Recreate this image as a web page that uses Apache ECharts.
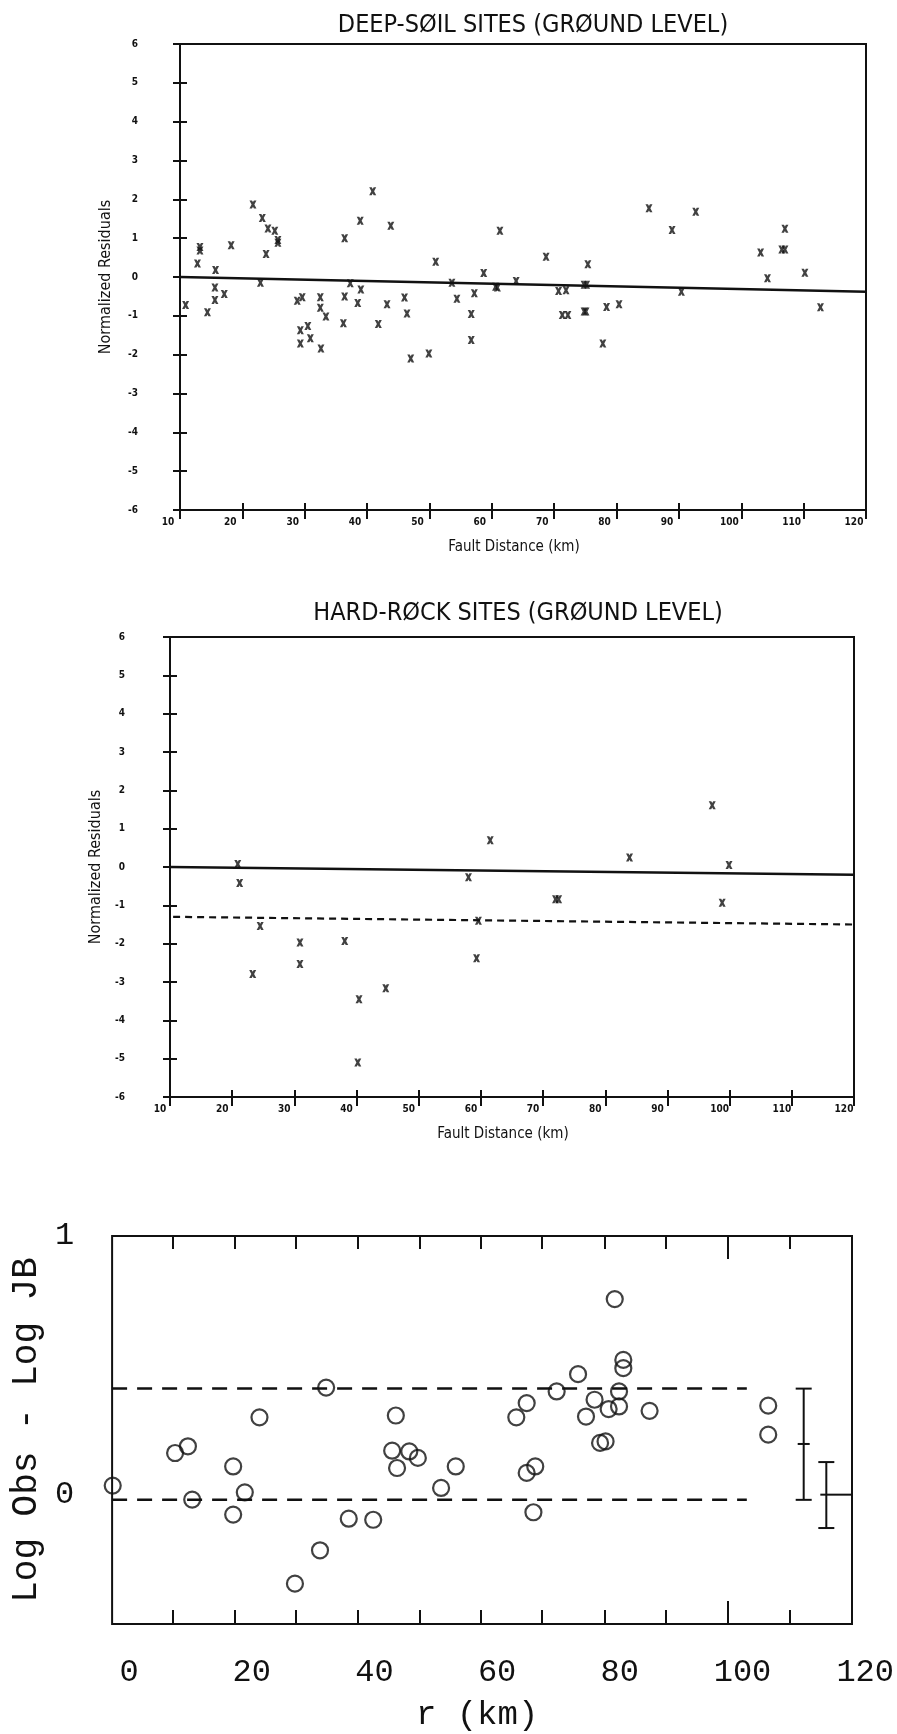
<!DOCTYPE html>
<html>
<head>
<meta charset="utf-8">
<title>Normalized residuals and Log Obs - Log JB vs distance</title>
<script src="https://cdn.jsdelivr.net/npm/echarts@6/dist/echarts.min.js"></script>
<style>
  html, body { margin: 0; padding: 0; background: #fff; }
  #chart { width: 897px; height: 1734px; }
</style>
</head>
<body>
<div id="chart"></div>
<script>
// [fault distance km, normalized residual]
const deepSoilPoints = [
  [13.2, 0.77], [13.2, 0.68], [12.8, 0.35], [15.7, 0.18], [15.6, -0.27], [15.6, -0.59],
  [17.1, -0.44], [14.4, -0.91], [18.2, 0.82], [10.9, -0.72], [21.7, 1.87], [23.2, 1.52],
  [24.1, 1.25], [25.2, 1.19], [25.7, 0.95], [25.7, 0.88], [23.8, 0.59], [22.9, -0.15],
  [28.8, -0.61], [29.6, -0.52], [29.3, -1.37], [30.5, -1.26], [29.3, -1.71], [30.9, -1.58],
  [32.6, -1.84], [32.5, -0.52], [32.5, -0.79], [33.4, -1.02], [36.4, 1.0], [36.4, -0.5],
  [36.2, -1.19], [37.3, -0.16], [38.9, 1.45], [39.0, -0.32], [38.5, -0.67], [40.9, 2.21],
  [43.8, 1.32], [43.2, -0.7], [41.8, -1.21], [46.0, -0.53], [46.4, -0.94], [47.0, -2.1],
  [49.9, -1.97], [51.0, 0.39], [53.6, -0.15], [54.4, -0.56], [56.7, -0.95], [56.7, -1.62],
  [57.2, -0.42], [58.7, 0.1], [60.6, -0.25], [60.9, -0.27], [61.3, 1.19], [63.9, -0.1],
  [68.7, 0.52], [70.7, -0.36], [71.9, -0.34], [71.3, -0.98], [72.2, -0.98], [74.8, -0.89],
  [75.1, -0.89], [74.8, -0.2], [75.2, -0.2], [75.4, 0.33], [77.8, -1.71], [78.4, -0.77],
  [80.4, -0.7], [85.2, 1.77], [88.9, 1.21], [90.4, -0.38], [92.7, 1.68], [103.1, 0.63],
  [104.2, -0.03], [107.0, 1.24], [106.5, 0.71], [107.0, 0.71], [110.2, 0.11], [112.7, -0.78]
];
const deepSoilFit = [[10, 0], [120, -0.38]];

const hardRockPoints = [
  [20.9, 0.08], [21.2, -0.42], [24.5, -1.54], [23.3, -2.79], [30.9, -1.97], [30.9, -2.53],
  [38.1, -1.93], [40.4, -3.45], [44.7, -3.16], [40.2, -5.1], [58.0, -0.27], [59.6, -1.4],
  [59.3, -2.38], [61.5, 0.7], [72.0, -0.84], [72.5, -0.84], [83.9, 0.25], [97.2, 1.61],
  [99.9, 0.05], [98.8, -0.93]
];
const hardRockFit = [[10, 0], [120, -0.2]];
const hardRockShift = [[10.5, -1.3], [120, -1.5]];

// [r km, log obs - log JB]
const jbPoints = [
  [78.8, 0.756], [80.2, 0.521], [80.2, 0.489], [72.8, 0.466], [31.6, 0.414], [69.3, 0.399],
  [79.5, 0.399], [64.4, 0.354], [75.5, 0.367], [79.5, 0.341], [77.8, 0.331], [84.5, 0.324],
  [103.9, 0.344], [20.7, 0.299], [43.0, 0.306], [62.7, 0.299], [74.1, 0.302], [103.9, 0.232],
  [76.4, 0.2], [77.3, 0.206], [6.9, 0.161], [9.0, 0.187], [42.4, 0.17], [45.2, 0.167],
  [46.6, 0.142], [43.2, 0.103], [16.4, 0.109], [52.8, 0.109], [64.4, 0.084], [65.8, 0.109],
  [50.4, 0.026], [-3.3, 0.035], [9.7, -0.019], [18.3, 0.009], [16.4, -0.077], [65.5, -0.068],
  [35.3, -0.093], [39.3, -0.097], [30.6, -0.215], [26.5, -0.344]
];
const jbUpper = [[-3.4, 0.41], [100.4, 0.41]];
const jbLower = [[-3.4, -0.02], [100.4, -0.02]];
// [r, low, centre, high]
const errorBars = [[109.7, -0.02, 0.196, 0.41], [113.4, -0.129, 0, 0.126]];
const rTicks = [6.5, 16.7, 26.7, 36.7, 46.9, 56.9, 66.9, 77.1, 87.2, 97.2, 107.5];
const rLongTicks = [97.2];

const ink = '#111';
const plotFont = "'DejaVu Sans Condensed', 'Liberation Sans Narrow', 'DejaVu Sans', sans-serif";
const monoFont = "'Liberation Mono', 'DejaVu Sans Mono', monospace";
const crossMark = 'path://M0,0H3.6L5,2.6L6.4,0H10L7,6L10,12H6.4L5,9.4L3.6,12H0L3,6Z';

const chart = echarts.init(document.getElementById('chart'));

function residualX(gridIndex, inside, withLabels, shift) {
  return {
    gridIndex,
    type: 'value',
    position: 'bottom',
    min: 10,
    max: 120,
    interval: 10,
    axisLine: { show: false, onZero: false },
    splitLine: { show: false },
    axisTick: { inside, length: inside ? 7 : 9, lineStyle: { color: ink, width: 2 } },
    axisLabel: {
      show: withLabels,
      color: ink,
      fontFamily: plotFont,
      fontWeight: 'bold',
      fontSize: 10,
      margin: 7,
      padding: [0, shift, 0, 0],
    },
    name: withLabels ? 'Fault Distance (km)' : '',
    nameLocation: 'middle',
    nameGap: 30,
    nameTextStyle: { color: ink, fontFamily: plotFont, fontSize: 15, padding: [0, 18, 0, 0] },
  };
}

function residualY(gridIndex, inside, withLabels, margin) {
  return {
    gridIndex,
    type: 'value',
    position: 'left',
    min: -6,
    max: 6,
    interval: 1,
    axisLine: { show: false, onZero: false },
    splitLine: { show: false },
    axisTick: { inside, length: 7, lineStyle: { color: ink, width: 2 } },
    axisLabel: {
      show: withLabels,
      color: ink,
      fontFamily: plotFont,
      fontWeight: 'bold',
      fontSize: 10,
      margin,
    },
    name: withLabels ? 'Normalized Residuals' : '',
    nameLocation: 'middle',
    nameGap: 66,
    nameTextStyle: { color: ink, fontFamily: plotFont, fontSize: 16 },
  };
}

function jbAxis(position, values, length) {
  return {
    gridIndex: 2,
    type: 'value',
    position,
    min: -3.4,
    max: 117.6,
    axisLine: { show: false, onZero: false },
    splitLine: { show: false },
    axisLabel: { show: false },
    axisTick: values
      ? { inside: true, length, customValues: values, lineStyle: { color: ink, width: 2 } }
      : { show: false },
  };
}

function renderErrorBar(params, api) {
  const x = api.value(0);
  const lo = api.coord([x, api.value(1)]);
  const mid = api.coord([x, api.value(2)]);
  const hi = api.coord([x, api.value(3)]);
  const style = { stroke: ink, lineWidth: 2 };
  const cap = 8;
  const last = params.dataIndex === errorBars.length - 1;
  const midRight = last ? params.coordSys.x + params.coordSys.width : mid[0] + 6;
  return {
    type: 'group',
    children: [
      { type: 'line', shape: { x1: hi[0], y1: hi[1], x2: lo[0], y2: lo[1] }, style },
      { type: 'line', shape: { x1: hi[0] - cap, y1: hi[1], x2: hi[0] + cap, y2: hi[1] }, style },
      { type: 'line', shape: { x1: lo[0] - cap, y1: lo[1], x2: lo[0] + cap, y2: lo[1] }, style },
      { type: 'line', shape: { x1: mid[0] - 6, y1: mid[1], x2: midRight, y2: mid[1] }, style },
    ],
  };
}

function straightLine(data, xAxisIndex, yAxisIndex, type, width) {
  return {
    type: 'line',
    data,
    xAxisIndex,
    yAxisIndex,
    showSymbol: false,
    silent: true,
    lineStyle: { color: ink, width, type },
  };
}

chart.setOption({
  animation: false,
  backgroundColor: '#fff',
  title: [
    {
      text: 'DEEP-SØIL SITES (GRØUND LEVEL)',
      left: 533,
      top: 13,
      textAlign: 'center',
      padding: 0,
      textStyle: { color: ink, fontFamily: plotFont, fontWeight: 'normal', fontSize: 25 },
    },
    {
      text: 'HARD-RØCK SITES (GRØUND LEVEL)',
      left: 518,
      top: 601,
      textAlign: 'center',
      padding: 0,
      textStyle: { color: ink, fontFamily: plotFont, fontWeight: 'normal', fontSize: 25 },
    },
  ],
  grid: [
    { left: 180, right: 31, top: 44, height: 466, show: true, borderColor: ink, borderWidth: 2 },
    { left: 170, right: 43, top: 637, height: 460, show: true, borderColor: ink, borderWidth: 2 },
    { left: 108, right: 45, top: 1236, height: 388, show: true, borderColor: ink, borderWidth: 2 },
    { left: 129, right: 30, top: 1236, height: 388 },
  ],
  xAxis: [
    residualX(0, true, true, 24),
    residualX(0, false, false, 0),
    residualX(1, true, true, 20),
    residualX(1, false, false, 0),
    jbAxis('bottom', null, 0),
    jbAxis('bottom', rTicks, 14),
    jbAxis('top', rTicks, 13),
    jbAxis('bottom', rLongTicks, 23),
    jbAxis('top', rLongTicks, 23),
    {
      gridIndex: 3,
      type: 'value',
      position: 'bottom',
      min: 0,
      max: 120,
      interval: 20,
      axisLine: { show: false, onZero: false },
      axisTick: { show: false },
      splitLine: { show: false },
      axisLabel: { color: ink, fontFamily: monoFont, fontSize: 32, margin: 33 },
      name: 'r (km)',
      nameLocation: 'middle',
      nameGap: 74,
      nameTextStyle: { color: ink, fontFamily: monoFont, fontSize: 34, padding: [0, 40, 0, 0] },
    },
  ],
  yAxis: [
    residualY(0, true, true, 42),
    residualY(0, false, false, 0),
    residualY(1, true, true, 45),
    residualY(1, false, false, 0),
    {
      gridIndex: 2,
      type: 'value',
      position: 'left',
      min: -0.5,
      max: 1,
      interval: 0.5,
      axisLine: { show: false, onZero: false },
      axisTick: { show: false },
      splitLine: { show: false },
      axisLabel: {
        color: ink,
        fontFamily: monoFont,
        fontSize: 32,
        margin: 38,
        formatter: v => (v === 0 || v === 1 ? String(v) : ''),
      },
      name: 'Log Obs - Log JB',
      nameLocation: 'middle',
      nameGap: 62,
      nameTextStyle: { color: ink, fontFamily: monoFont, fontSize: 36 },
    },
    { gridIndex: 3, type: 'value', min: -0.5, max: 1, show: false },
  ],
  series: [
    straightLine(deepSoilFit, 0, 0, 'solid', 2.5),
    {
      type: 'scatter',
      data: deepSoilPoints,
      xAxisIndex: 0,
      yAxisIndex: 0,
      symbol: crossMark,
      symbolSize: [7, 8],
      itemStyle: { color: ink },
    },
    straightLine(hardRockFit, 2, 2, 'solid', 2.5),
    straightLine(hardRockShift, 2, 2, [7, 5], 2.2),
    {
      type: 'scatter',
      data: hardRockPoints,
      xAxisIndex: 2,
      yAxisIndex: 2,
      symbol: crossMark,
      symbolSize: [7, 8],
      itemStyle: { color: ink },
    },
    straightLine(jbUpper, 4, 4, [15, 10], 2.5),
    straightLine(jbLower, 4, 4, [15, 10], 2.5),
    {
      type: 'scatter',
      data: jbPoints,
      xAxisIndex: 4,
      yAxisIndex: 4,
      symbol: 'circle',
      symbolSize: 16,
      itemStyle: { color: 'rgba(0,0,0,0)', borderColor: ink, borderWidth: 2.2 },
    },
    {
      type: 'custom',
      data: errorBars,
      xAxisIndex: 4,
      yAxisIndex: 4,
      renderItem: renderErrorBar,
      silent: true,
    },
  ],
});
</script>
</body>
</html>
